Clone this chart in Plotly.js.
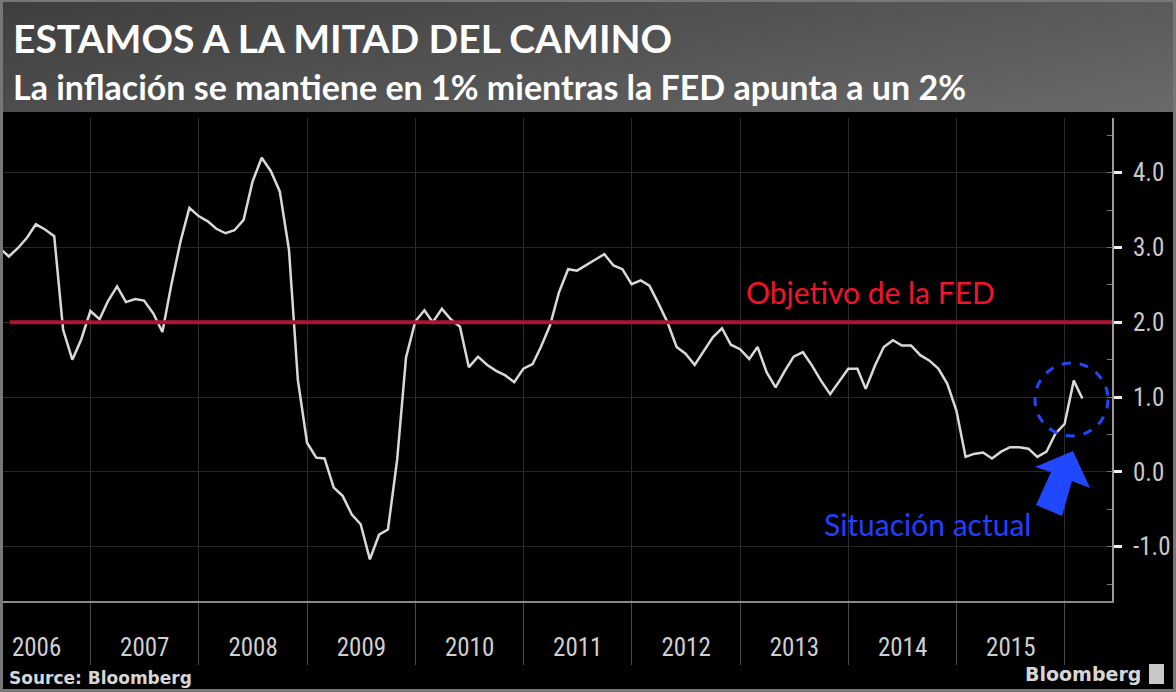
<!DOCTYPE html>
<html>
<head>
<meta charset="utf-8">
<script src="https://cdn.plot.ly/plotly-3.0.1.min.js"></script>
<style>
  html, body { margin: 0; padding: 0; background: #000; }
  #chart {
    width: 1176px; height: 692px;
    background:
      linear-gradient(170deg, #3e3e3e 0%, #6a6a6a 100%) top left / 100% 112px no-repeat,
      #000;
  }
</style>
</head>
<body>
<div id="chart"></div>
<script>
// ---- Data: PCE-type inflation, % YoY, month-end values ----
const v2006 = [2.99, 2.88, 2.99, 3.13, 3.31, 3.24, 3.15, 1.90, 1.50, 1.77, 2.15]; // Feb..Dec
const v2007 = [2.04, 2.28, 2.48, 2.27, 2.31, 2.29, 2.12, 1.87, 2.50, 3.08, 3.53, 3.42];
const v2008 = [3.35, 3.25, 3.19, 3.23, 3.37, 3.88, 4.20, 4.02, 3.75, 2.97, 1.23, 0.39];
const v2009 = [0.19, 0.18, -0.21, -0.32, -0.57, -0.70, -1.17, -0.84, -0.77, 0.16, 1.53, 2.01];
const v2010 = [2.16, 2.00, 2.18, 2.04, 1.94, 1.40, 1.54, 1.43, 1.35, 1.29, 1.20, 1.38];
const v2011 = [1.44, 1.67, 1.96, 2.40, 2.71, 2.69, 2.77, 2.84, 2.91, 2.76, 2.71, 2.51];
const v2012 = [2.56, 2.49, 2.25, 2.00, 1.67, 1.58, 1.43, 1.62, 1.80, 1.92, 1.70, 1.64];
const v2013 = [1.51, 1.67, 1.33, 1.13, 1.35, 1.54, 1.60, 1.42, 1.22, 1.04, 1.20, 1.38];
const v2014 = [1.38, 1.11, 1.42, 1.67, 1.76, 1.69, 1.69, 1.56, 1.49, 1.38, 1.18, 0.82];
const v2015 = [0.20, 0.24, 0.26, 0.18, 0.27, 0.33, 0.33, 0.31, 0.20, 0.27, 0.51, 0.64];
const v2016 = [1.22, 0.98]; // Jan..Feb

const seriesByYear = [
  [2006, 2, v2006], [2007, 1, v2007], [2008, 1, v2008], [2009, 1, v2009],
  [2010, 1, v2010], [2011, 1, v2011], [2012, 1, v2012], [2013, 1, v2013],
  [2014, 1, v2014], [2015, 1, v2015], [2016, 1, v2016]
];
const fedTarget = 2.0;
const yTicks = [-1, 0, 1, 2, 3, 4];
const yTickLabels = ['-1.0', '0.0', '1.0', '2.0', '3.0', '4.0'];

const titleText = 'ESTAMOS A LA MITAD DEL CAMINO';
const subtitleText = 'La inflación se mantiene en 1% mientras la FED apunta a un 2%';
const targetLabel = 'Objetivo de la FED';
const currentLabel = 'Situación actual';
const sourceText = 'Source: Bloomberg';
const brandText = 'Bloomberg';

// ---- Build dates (month ends) ----
function monthEnd(y, m) {
  const d = new Date(Date.UTC(y, m, 0));
  return d.toISOString().slice(0, 10);
}
const dates = [], values = [];
seriesByYear.forEach(([y, startM, arr]) => {
  arr.forEach((v, i) => { dates.push(monthEnd(y, startM + i)); values.push(v); });
});

// ---- Layout geometry (pixels) ----
const W = 1176, H = 692;
const M = { l: 0, r: 64, t: 118, b: 91 };
const PW = W - M.l - M.r, PH = H - M.t - M.b;
const PX = x => (x - M.l) / PW;
const PY = y => (H - M.b - y) / PH;

const narrow = "'Liberation Sans Narrow', 'Arial Narrow', 'Roboto Condensed', 'DejaVu Sans Condensed', sans-serif";
const cal = "Lato, 'Open Sans', sans-serif";
const blue = '#1f48ff';

const trace = {
  type: 'scatter', mode: 'lines', x: dates, y: values,
  line: { color: '#d9d9d9', width: 2.5 },
  hoverinfo: 'x+y', showlegend: false
};

// arrow polygon (block arrow pointing up-right)
const arrowPts = [[1073, 451], [1090, 488], [1072, 481], [1062, 516], [1036, 505], [1051, 472], [1035, 467]];
const arrowPath = 'M ' + arrowPts.map(p => PX(p[0]).toFixed(5) + ',' + PY(p[1]).toFixed(5)).join(' L ') + ' Z';

const layout = {
  width: W, height: H,
  margin: M,
  paper_bgcolor: 'rgba(0,0,0,0)',
  plot_bgcolor: '#000',
  showlegend: false,
  xaxis: {
    type: 'date',
    range: ['2006-03-01', '2016-06-08'],
    tick0: '2006-01-01', dtick: 'M12',
    ticklabelmode: 'period', tickformat: '%Y',
    ticks: 'outside', ticklen: 62, tickwidth: 1, tickcolor: '#4a4a4a',
    showgrid: true, gridcolor: '#2e2e2e', gridwidth: 1,
    showline: true, linecolor: '#8a8a8a', linewidth: 2,
    zeroline: false,
    tickfont: { family: narrow, size: 25, color: '#cfcfcf' },
    ticklabelstandoff: -39,
    fixedrange: true
  },
  yaxis: {
    side: 'right',
    range: [-1.726, 4.731],
    tickvals: yTicks, ticktext: yTickLabels,
    ticks: 'outside', ticklen: 8, tickwidth: 3, tickcolor: '#eeeeee',
    ticklabelstandoff: 6,
    minor: { dtick: 0.5, tick0: 0, ticks: 'inside', ticklen: 5, tickwidth: 1, tickcolor: '#777', showgrid: false },
    showgrid: true, gridcolor: '#262626', gridwidth: 1,
    showline: true, linecolor: '#9a9a9a', linewidth: 2,
    zeroline: false,
    tickfont: { family: narrow, size: 25, color: '#c9c9c9' },
    fixedrange: true
  },
  shapes: [
    { type: 'line', xref: 'paper', yref: 'y', x0: PX(10), x1: 1, y0: fedTarget, y1: fedTarget,
      line: { color: '#ad1530', width: 4 }, layer: 'above' },
    { type: 'circle', xref: 'paper', yref: 'paper',
      x0: PX(1035), x1: PX(1108), y0: PY(436), y1: PY(363),
      line: { color: blue, width: 3, dash: 'dash' } },
    { type: 'path', xref: 'paper', yref: 'paper', path: arrowPath,
      fillcolor: blue, line: { width: 0 } },
    // small brand icon
    { type: 'rect', xref: 'paper', yref: 'paper', x0: PX(1149), x1: PX(1164), y0: PY(684), y1: PY(664),
      fillcolor: '#c8c8c8', line: { width: 0 } },
    // outer frame
    { type: 'rect', xref: 'paper', yref: 'paper', x0: PX(1.5), x1: PX(1174.5), y0: PY(690.5), y1: PY(0.5),
      line: { color: '#777', width: 3 }, fillcolor: 'rgba(0,0,0,0)' }
  ],
  annotations: [
    { text: titleText, xref: 'paper', yref: 'paper', x: PX(11), y: PY(38), xanchor: 'left', yanchor: 'middle',
      showarrow: false, font: { family: cal, size: 39, color: '#ffffff', weight: 'bold' } },
    { text: subtitleText, xref: 'paper', yref: 'paper', x: PX(11), y: PY(86), xanchor: 'left', yanchor: 'middle',
      showarrow: false, font: { family: cal, size: 34, color: '#ffffff', weight: 'bold' } },
    { text: targetLabel, xref: 'paper', yref: 'paper', x: PX(744), y: PY(292), xanchor: 'left', yanchor: 'middle',
      showarrow: false, font: { family: cal, size: 30, color: '#f5122a' } },
    { text: currentLabel, xref: 'paper', yref: 'paper', x: PX(822), y: PY(524), xanchor: 'left', yanchor: 'middle',
      showarrow: false, font: { family: cal, size: 30, color: '#2040ff' } },
    { text: sourceText, xref: 'paper', yref: 'paper', x: PX(7), y: PY(678), xanchor: 'left', yanchor: 'middle',
      showarrow: false, font: { family: "'DejaVu Sans', sans-serif", size: 17, color: '#d6d6d6', weight: 'bold' } },
    { text: brandText, xref: 'paper', yref: 'paper', x: PX(1143), y: PY(674), xanchor: 'right', yanchor: 'middle',
      showarrow: false, font: { family: "'DejaVu Sans', sans-serif", size: 19, color: '#d6d6d6', weight: 'bold' } }
  ]
};

Plotly.newPlot('chart', [trace], layout, { displayModeBar: false, staticPlot: true });
</script>
</body>
</html>
